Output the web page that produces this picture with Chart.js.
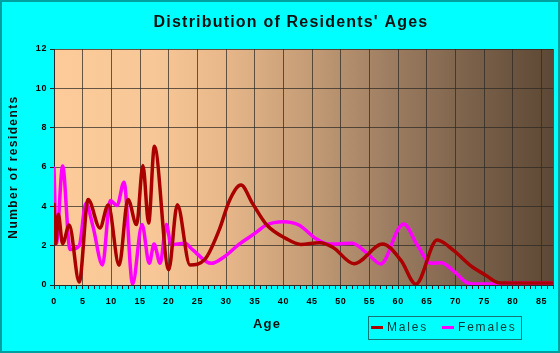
<!DOCTYPE html>
<html>
<head>
<meta charset="utf-8">
<script src="https://cdn.jsdelivr.net/npm/chart.js@4.4.1/dist/chart.umd.min.js"></script>
<style>
  html, body { margin: 0; padding: 0; background: #00FFFF; }
  #wrap { width: 560px; height: 353px; position: relative; }
</style>
</head>
<body>
<div id="wrap"><canvas id="c" width="560" height="353"></canvas></div>
<script>
const chartTitle = "Distribution of Residents' Ages";
const xAxisTitle = "Age";
const yAxisTitle = "Number of residents";
const seriesNames = ["Males", "Females"];

const maleAges   = [0, 0.3, 0.75, 1.5, 2.65, 4.4, 5.95, 8.0, 9.45, 11.35, 12.9, 14.4, 15.5, 16.5, 17.5, 20.0, 21.5, 23.7, 26.3, 28.8, 30.6, 32.6, 34.6, 37.1, 40.4, 43.0, 46.3, 48.6, 52.3, 57.3, 60.5, 63.1, 66.8, 69.7, 72.8, 75.2, 77.5, 80, 87];
const maleCounts = [4.1, 2.1, 3.6, 2.1, 3.05, 0.15, 4.35, 2.9, 4.07, 1.0, 4.35, 3.07, 6.07, 3.15, 7.05, 0.78, 4.08, 1.02, 1.3, 2.8, 4.3, 5.08, 4.15, 3.05, 2.37, 2.06, 2.15, 1.92, 1.08, 2.08, 1.25, 0.04, 2.29, 1.75, 0.95, 0.51, 0.12, 0.1, 0.1];

const femaleAges   = [0, 0.4, 1.5, 2.8, 4.4, 5.55, 6.8, 8.45, 9.8, 11.0, 12.2, 13.7, 15.35, 16.6, 17.45, 18.5, 19.6, 20.4, 22.8, 24.2, 27.4, 29.7, 32.3, 35.2, 37.0, 40.0, 42.7, 45.6, 47.9, 52.0, 54.6, 57.0, 60.1, 61.0, 63.2, 65.8, 67.5, 69.9, 71.7, 73.0, 77.5, 79.5, 87];
const femaleCounts = [5.95, 2.1, 6.05, 1.8, 2.0, 4.15, 2.97, 1.02, 4.3, 4.04, 5.23, 0.05, 3.08, 1.1, 2.08, 1.1, 3.08, 2.05, 2.12, 1.78, 1.1, 1.44, 2.08, 2.66, 3.05, 3.22, 3.05, 2.37, 2.08, 2.12, 1.61, 1.07, 2.88, 3.1, 2.1, 1.1, 1.13, 0.65, 0.17, 0.05, 0.05, 0.1, 0.1];

const xLabelAges = [0, 5, 10, 15, 20, 25, 30, 35, 40, 45, 50, 55, 60, 65, 70, 75, 80, 85];
const yTickValues = [0, 2, 4, 6, 8, 10, 12];

const FONT = '"Liberation Sans", Arial, sans-serif';
const gridColor = 'rgba(45,40,35,0.72)';
const axisColor = '#2a2a2a';

const pairs = (xs, ys) => xs.map((x, i) => ({ x: x, y: ys[i] }));

const decor = {
  id: 'decor',
  beforeDraw(chart) {
    const ctx = chart.ctx;
    const a = chart.chartArea;
    ctx.save();
    ctx.fillStyle = '#00FFFF';
    ctx.fillRect(0, 0, chart.width, chart.height);
    const g = ctx.createLinearGradient(a.left, 0, a.right, 0);
    g.addColorStop(0.00, '#FCCB99');
    g.addColorStop(0.20, '#F8C797');
    g.addColorStop(0.33, '#EAB98B');
    g.addColorStop(0.51, '#C49C76');
    g.addColorStop(0.67, '#9E7E62');
    g.addColorStop(0.83, '#7C624B');
    g.addColorStop(1.00, '#5C4835');
    ctx.fillStyle = g;
    ctx.fillRect(a.left, a.top, a.right - a.left, a.bottom - a.top);
    ctx.restore();
    ctx.letterSpacing = '0.6px';
  },
  afterDraw(chart) {
    const ctx = chart.ctx;
    ctx.save();
    ctx.strokeStyle = '#00A0A0';
    ctx.lineWidth = 2;
    ctx.strokeRect(1, 1, chart.width - 2, chart.height - 2);

    ctx.fillStyle = '#111111';
    ctx.textAlign = 'center';
    ctx.textBaseline = 'middle';
    ctx.letterSpacing = '1.2px';
    ctx.font = 'bold 16px ' + FONT;
    ctx.fillText(chartTitle, 291, 23);

    ctx.letterSpacing = '1.2px';
    ctx.font = 'bold 13px ' + FONT;
    ctx.fillText(xAxisTitle, 267, 324);

    ctx.save();
    ctx.translate(14, 167);
    ctx.rotate(-Math.PI / 2);
    ctx.letterSpacing = '1.4px';
    ctx.font = 'bold 12px ' + FONT;
    ctx.fillText(yAxisTitle, 0, 0);
    ctx.restore();

    ctx.strokeStyle = '#137777';
    ctx.lineWidth = 1;
    ctx.strokeRect(368.5, 316.5, 153, 23);
    const items = [{ x: 371, tx: 387 }, { x: 442, tx: 458 }];
    ctx.font = '12px ' + FONT;
    ctx.letterSpacing = '1.8px';
    ctx.textAlign = 'left';
    chart.data.datasets.forEach((ds, i) => {
      const it = items[i];
      ctx.strokeStyle = ds.borderColor;
      ctx.lineWidth = 3;
      ctx.beginPath();
      ctx.moveTo(it.x, 327.5);
      ctx.lineTo(it.x + 12, 327.5);
      ctx.stroke();
      ctx.fillStyle = '#0a3636';
      ctx.fillText(ds.label, it.tx, 328);
    });
    ctx.restore();
  }
};

new Chart(document.getElementById('c'), {
  type: 'line',
  data: {
    datasets: [
      {
        label: seriesNames[0],
        data: pairs(maleAges, maleCounts),
        borderColor: '#AA0000',
        backgroundColor: '#AA0000',
        borderWidth: 3.5,
        pointRadius: 0,
        cubicInterpolationMode: 'monotone',
        borderCapStyle: 'round',
        borderJoinStyle: 'round',
        fill: false
      },
      {
        label: seriesNames[1],
        data: pairs(femaleAges, femaleCounts),
        borderColor: '#FF00FF',
        backgroundColor: '#FF00FF',
        borderWidth: 3.5,
        pointRadius: 0,
        cubicInterpolationMode: 'monotone',
        borderCapStyle: 'round',
        borderJoinStyle: 'round',
        fill: false
      }
    ]
  },
  options: {
    responsive: false,
    animation: false,
    devicePixelRatio: 1,
    layout: { padding: { top: 49, right: 6, left: 0, bottom: 0 } },
    plugins: {
      legend: { display: false },
      title: { display: false },
      tooltip: { enabled: false }
    },
    scales: {
      x: {
        type: 'linear',
        min: 0,
        max: 87,
        afterFit(scale) { scale.height = 68; },
        ticks: {
          stepSize: 1,
          autoSkip: false,
          maxRotation: 0,
          padding: 7,
          color: '#000000',
          font: { family: FONT, size: 9, weight: 'bold' },
          callback: (v) => xLabelAges.includes(v) ? String(v) : ''
        },
        grid: {
          color: (c) => (c.tick && (c.tick.value % 5 === 0 || c.tick.value === 87)) ? gridColor : 'rgba(0,0,0,0)',
          tickColor: axisColor,
          tickLength: 4,
          lineWidth: 1
        },
        border: { display: true, color: axisColor, width: 1 }
      },
      y: {
        min: 0,
        max: 12,
        afterFit(scale) { scale.width = 54; },
        afterBuildTicks(scale) { scale.ticks = yTickValues.map(v => ({ value: v })); },
        ticks: {
          padding: 3,
          color: '#000000',
          font: { family: FONT, size: 9, weight: 'bold' }
        },
        grid: {
          color: gridColor,
          tickColor: axisColor,
          tickLength: 4,
          lineWidth: 1
        },
        border: { display: true, color: axisColor, width: 1 }
      }
    }
  },
  plugins: [decor]
});
</script>
</body>
</html>
